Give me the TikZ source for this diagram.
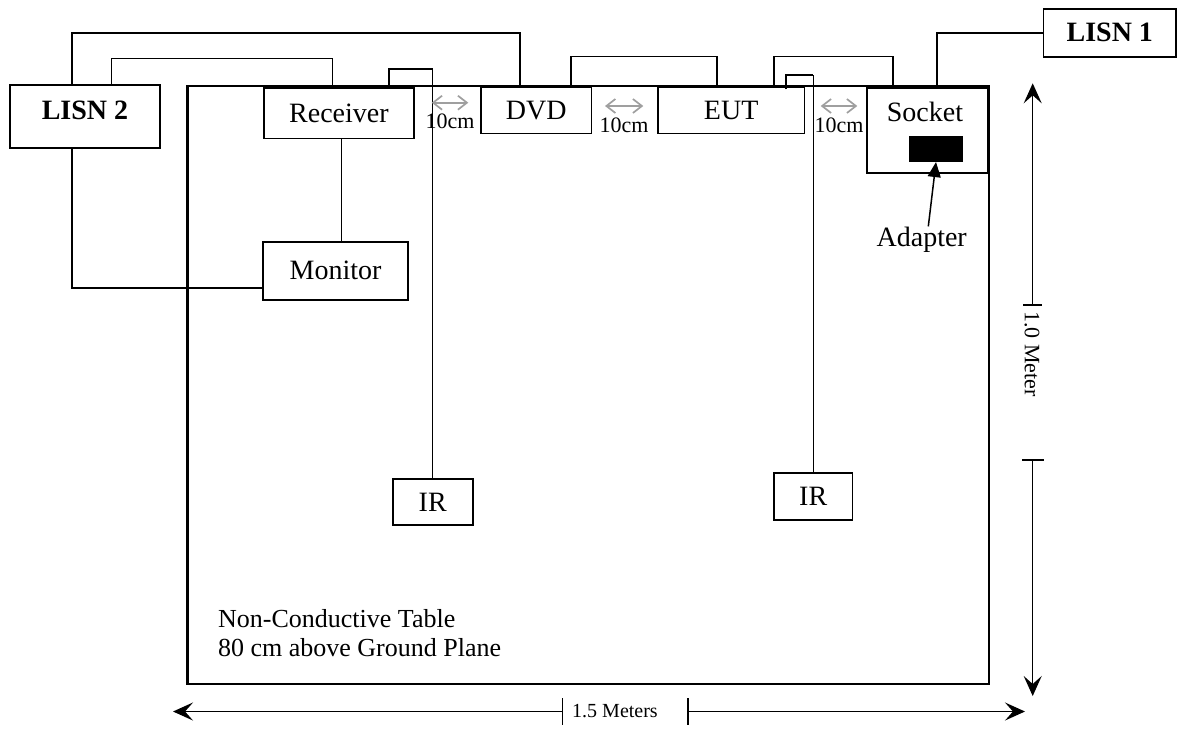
\documentclass[tikz,border=0pt]{standalone}
\usepackage{fontspec}
\setmainfont{Liberation Serif}
\usetikzlibrary{arrows.meta,positioning}

\begin{document}
\begin{tikzpicture}[x=0.5pt, y=-0.5pt,
	box/.style={draw, line width=0.85pt, inner sep=0pt, font=\fontsize{14}{16}\selectfont},
	lisnbox/.style={box, font=\fontsize{14}{16}\selectfont\bfseries},
	thickwire/.style={line width=1.15pt},
	wire/.style={line width=0.75pt},
	thinwire/.style={line width=0.5pt},
	gap/.style={{Straight Barb[length=4.5pt,width=7pt]}-{Straight Barb[length=4.5pt,width=7pt]}, gray!75, line width=0.85pt},
	gaplbl/.style={font=\fontsize{11}{13}\selectfont, inner sep=0pt},
	dim/.style={-{Stealth[length=10pt,width=9pt,inset=4pt]}, line width=0.7pt},
	dimlbl/.style={font=\fontsize{10}{12}\selectfont, inner sep=0pt}]
	\useasboundingbox (0,0) rectangle (1178,729);
	% table
	\node[draw, line width=1.4pt, inner sep=0pt, minimum width=400.75pt, minimum height=299pt] (table) at (588.25,385) {};
	\node[align=left, anchor=north west, inner sep=0pt, font=\fontsize{13}{14.5}\selectfont] (tabletext) at (217.7,609) {Non-Conductive Table\\80 cm above Ground Plane};
	% boxes
	\node[lisnbox, minimum width=75pt, minimum height=31.5pt, text depth=6pt] (lisn2) at (85,116.2) {LISN 2};
	\node[lisnbox, minimum width=66.2pt, minimum height=23.85pt] (lisn1) at (1109.8,32.8) {LISN 1};
	\node[box, minimum width=75.15pt, minimum height=25.4pt] (receiver) at (338.9,113.1) {Receiver};
	\node[box, minimum width=55.25pt, minimum height=23pt] (dvd) at (536.2,110.5) {DVD};
	\node[box, minimum width=73.2pt, minimum height=23pt] (eut) at (731.2,110.5) {EUT};
	\node[box, minimum width=60.5pt, minimum height=42.8pt] (socket) at (927.5,130.5) {};
	\node[box, draw=none, anchor=base] (socketlbl) at (925,121.7) {Socket};
	\node[fill=black, inner sep=0pt, minimum width=27pt, minimum height=12.85pt] (adapter) at (936,148.8) {};
	\node[box, draw=none, anchor=base] (adapterlbl) at (921.7,246.7) {Adapter};
	\node[box, minimum width=72.2pt, minimum height=28.85pt] (monitor) at (335.5,270.8) {Monitor};
	\node[box, minimum width=40pt, minimum height=23pt] (ir1) at (432.7,502) {IR};
	\node[box, minimum width=39.15pt, minimum height=23.5pt] (ir2) at (813.2,496.2) {IR};
	\coordinate (irtap) at (786,89.3);
	% cables
	\draw[thickwire] (lisn2.north -| 72,0) |- (520,33.3) -- (table.north -| 520,0);
	\draw[thinwire] (lisn2.north -| 111.7,0) |- (332,58.7) -- (table.north -| 332,0);
	\draw[thickwire] (lisn2.south -| 72,0) |- (monitor.west |- 0,288.3);
	\draw[thinwire] (receiver.south -| 341,0) -- (monitor.north -| 341,0);
	\draw[wire] (table.north -| 388.8,0) |- (ir1.north |- 0,69);
	\draw[thinwire] (ir1.north |- 0,69) -- (ir1.north);
	\draw[wire] (table.north -| 571,0) |- (717,56.7) -- (table.north -| 717,0);
	\draw[wire] (table.north -| 774,0) |- (893,56.7) -- (table.north -| 893,0);
	\draw[wire] (irtap) |- (ir2.north |- 0,75);
	\draw[thinwire] (ir2.north |- 0,75) -- (ir2.north);
	\draw[thickwire] (lisn1.west) -| (table.north -| 937.2,0);
	\draw[-{Triangle[length=7.5pt,width=6.5pt]}, line width=0.75pt] ([xshift=3.3pt]adapterlbl.north) -- (adapter.south);
	% 10cm spacings
	\foreach \xa/\xb/\ya/\yl [count=\i] in {431.7/468.3/102.7/121.7, 605/643.3/106/125, 820.7/857.3/106/125} {
		\draw[gap] (\xa,\ya) -- (\xb,\ya);
		\node[gaplbl] (gap\i) at ({(\xa+\xb)/2},\yl) {10cm};
	}
	% dimensions
	\node[dimlbl, font=\fontsize{11}{13}\selectfont, rotate=-90] (dimv) at (1032,354) {1.0 Meter};
	\draw[dim] (1032.7,305) -- (1032.7,83.3);
	\draw[dim] (1032.7,460) -- (1032.7,696);
	\draw[line width=0.7pt] (1023,305) -- (1042,305);
	\draw[line width=0.7pt] (1022,460) -- (1044,460);
	\node[dimlbl] (dimh) at (615,711.5) {1.5 Meters};
	\draw[dim] (562.2,711.5) -- (173,711.5);
	\draw[dim] (688,711.5) -- (1025,711.5);
	\draw[line width=0.7pt] (562.2,698) -- (562.2,725);
	\draw[line width=0.7pt] (688,698) -- (688,725);
\end{tikzpicture}
\end{document}
